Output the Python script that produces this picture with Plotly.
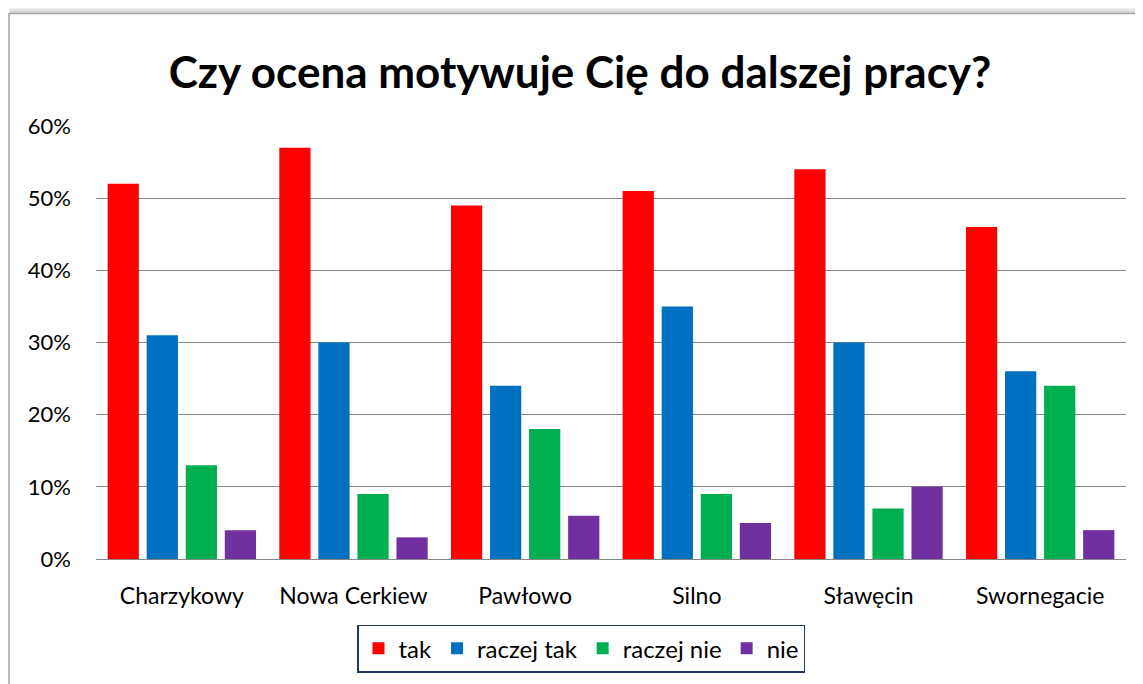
import plotly.graph_objects as go

categories = ["Charzykowy", "Nowa Cerkiew", "Pawłowo", "Silno", "Sławęcin", "Swornegacie"]
series_names = ["tak", "raczej tak", "raczej nie", "nie"]
tak = [0.52, 0.57, 0.49, 0.51, 0.54, 0.46]
raczej_tak = [0.31, 0.30, 0.24, 0.35, 0.30, 0.26]
raczej_nie = [0.13, 0.09, 0.18, 0.09, 0.07, 0.24]
nie = [0.04, 0.03, 0.06, 0.05, 0.10, 0.04]
y_ticks = [0, 0.1, 0.2, 0.3, 0.4, 0.5, 0.6]

colors = ["#FF0000", "#0070C0", "#00B050", "#7030A0"]
values = [tak, raczej_tak, raczej_nie, nie]

FONT = "Lato"
OFF = 8  # page body margin
W, H = 1143, 684
ML, MR, MT, MB = 96, 17, 126, 123
PW, PH = W - ML - MR, H - MT - MB

def px_x(x):
    return (x - ML) / PW

def px_y(y):
    return (H - MB - y) / PH

fig = go.Figure()
for name, vals, col in zip(series_names, values, colors):
    fig.add_trace(go.Bar(x=categories, y=vals, name=name, marker=dict(color=col, line=dict(width=0))))

shapes = []
# shadow at top
for i, c in enumerate(["#E6E6E6", "#D9D9D9", "#CCCCCC"]):
    shapes.append(dict(type="rect", xref="paper", yref="paper",
                       x0=px_x(9 + i), x1=px_x(W + 5), y0=px_y(13), y1=px_y(8 + 2 * i),
                       line=dict(width=0), fillcolor=c, layer="below"))
shapes.append(dict(type="rect", xref="paper", yref="paper",
                   x0=px_x(9), x1=px_x(W + 5), y0=px_y(H + 5), y1=px_y(13),
                   line=dict(color="#A6A6A6", width=1.5), fillcolor="white", layer="below"))

fig.update_layout(
    width=W - OFF, height=H - OFF,
    margin=dict(l=ML - OFF, r=MR, t=MT - OFF, b=MB),
    paper_bgcolor="white", plot_bgcolor="rgba(0,0,0,0)",
    barmode="group", bargap=0.09, bargroupgap=0.2,
    font=dict(family=FONT, size=22, color="#000000"),
    title=dict(text="<b>Czy ocena motywuje Cię do dalszej pracy?</b>",
               x=px_x(580), xref="paper", xanchor="center",
               y=1 - (73 - OFF) / (H - OFF), yanchor="middle",
               font=dict(family=FONT, size=44, color="#000000")),
    xaxis=dict(showline=False, showgrid=False, ticks="", ticklabelstandoff=21,
               tickfont=dict(size=23)),
    yaxis=dict(range=[0, 0.6], tickvals=y_ticks, tickformat=".0%",
               showgrid=True, gridcolor="#868686", gridwidth=1,
               zeroline=True, zerolinecolor="#868686", zerolinewidth=1,
               showline=False, ticks="", ticklabelstandoff=24,
               tickfont=dict(size=22)),
    legend=dict(orientation="h", x=px_x(581), xanchor="center",
                y=px_y(651), yanchor="middle",
                bordercolor="#1F3864", borderwidth=1.5, bgcolor="white",
                font=dict(size=24), itemsizing="constant",
                traceorder="normal"),
    shapes=shapes,
    showlegend=True,
)

fig.write_html("out.html")
